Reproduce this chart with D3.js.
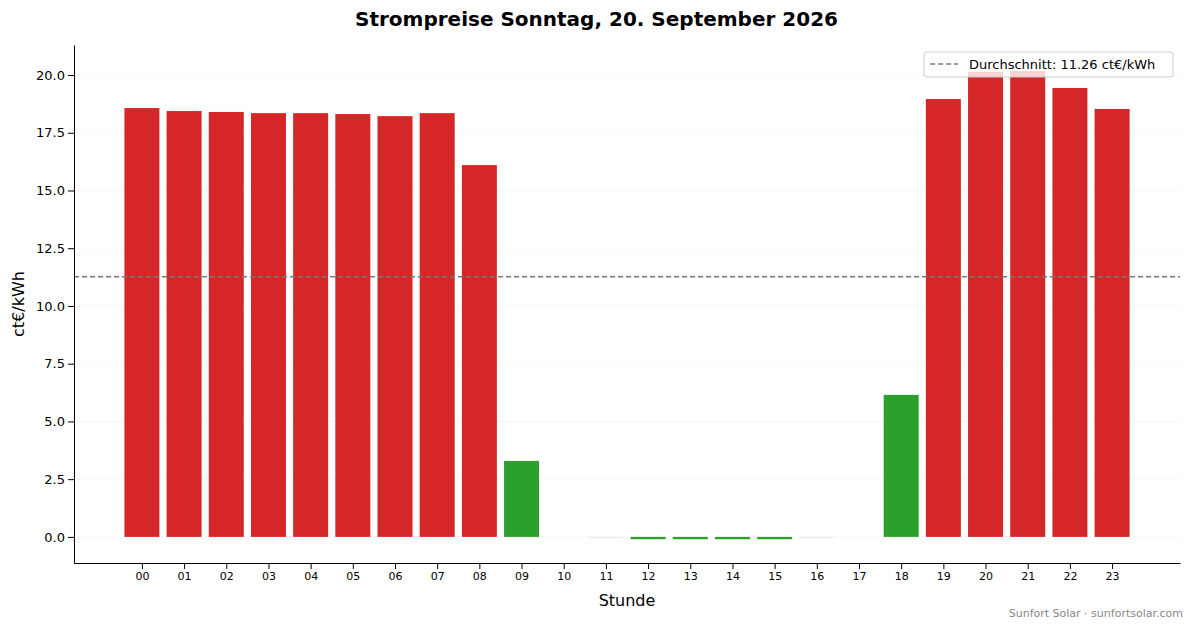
<!DOCTYPE html>
<html><head><meta charset="utf-8">
<script src="https://cdn.jsdelivr.net/npm/d3@7"></script>
<style>body{margin:0;background:#fff;font-family:"DejaVu Sans",sans-serif;}</style>
</head><body><div id="chart"></div>
<script>
const hours = ['00','01','02','03','04','05','06','07','08','09','10','11','12','13','14','15','16','17','18','19','20','21','22','23'];
const prices = [18.57,18.44,18.40,18.35,18.35,18.31,18.22,18.35,16.10,3.29,0.0,-0.03,-0.1,-0.1,-0.1,-0.1,-0.03,0.0,6.15,18.96,20.13,20.17,19.44,18.53];
const average = 11.26;
const yTicks = [0,2.5,5,7.5,10,12.5,15,17.5,20];

const W = 1193, H = 628;
const m = {left: 74, right: 13, top: 45, bottom: 65};
const svg = d3.select('#chart').append('svg').attr('width', W).attr('height', H);

const x = d3.scaleLinear().domain([-1.61, 24.61]).range([m.left, W - m.right]);
const y = d3.scaleLinear().domain([-1.13, 21.3]).range([H - m.bottom, m.top]);
const bw = (x(1) - x(0)) * 0.83;

// grid
svg.append('g').selectAll('line').data(yTicks).enter().append('line')
  .attr('x1', m.left).attr('x2', W - m.right)
  .attr('y1', d => y(d)).attr('y2', d => y(d))
  .attr('stroke', '#ddd').attr('stroke-width', 0.8).attr('stroke-dasharray', '1,3');

// bars
svg.append('g').selectAll('rect').data(prices).enter().append('rect')
  .attr('x', (d, i) => x(i) - bw / 2)
  .attr('width', bw)
  .attr('y', d => y(Math.max(d, 0)))
  .attr('height', d => Math.abs(y(d) - y(0)))
  .attr('fill', d => d > average ? '#d62728' : '#2ca02c')
  .attr('opacity', d => Math.abs(d) < 0.05 ? 0.2 : 1);

// average line
svg.append('line')
  .attr('x1', m.left).attr('x2', W - m.right)
  .attr('y1', y(average)).attr('y2', y(average))
  .attr('stroke', '#777').attr('stroke-width', 1.5).attr('stroke-dasharray', '5,3');

// axes
const xAxis = svg.append('g').attr('transform', `translate(0,${H - m.bottom})`)
  .call(d3.axisBottom(x).tickValues(d3.range(24)).tickFormat(i => hours[i]).tickSizeOuter(0));
const yAxis = svg.append('g').attr('transform', `translate(${m.left},0)`)
  .call(d3.axisLeft(y).tickValues(yTicks).tickFormat(d3.format('.1f')).tickSizeOuter(0));
[xAxis, yAxis].forEach(a => {
  a.selectAll('text').attr('font-family', 'DejaVu Sans').attr('fill', '#000');
  a.selectAll('line').attr('stroke', '#000');
  a.select('.domain').attr('stroke', '#000');
});
xAxis.selectAll('text').attr('font-size', 11);
yAxis.selectAll('text').attr('font-size', 13);

// labels
svg.append('text').attr('x', W / 2).attr('y', 26).attr('text-anchor', 'middle')
  .attr('font-size', 20).attr('font-weight', 'bold').text('Strompreise Sonntag, 20. September 2026');
svg.append('text').attr('x', (m.left + W - m.right) / 2).attr('y', 606).attr('text-anchor', 'middle')
  .attr('font-size', 16).text('Stunde');
svg.append('text').attr('transform', `translate(24,${(m.top + H - m.bottom) / 2}) rotate(-90)`)
  .attr('text-anchor', 'middle').attr('font-size', 16).text('ct€/kWh');
svg.append('text').attr('x', 1183).attr('y', 617).attr('text-anchor', 'end')
  .attr('font-size', 11).attr('fill', '#888').text('Sunfort Solar · sunfortsolar.com');

// legend
const lg = svg.append('g').attr('transform', 'translate(924,52)');
lg.append('rect').attr('width', 249).attr('height', 25).attr('rx', 3)
  .attr('fill', 'rgba(255,255,255,0.8)').attr('stroke', '#ccc');
lg.append('line').attr('x1', 6).attr('x2', 34).attr('y1', 12).attr('y2', 12)
  .attr('stroke', '#777').attr('stroke-width', 1.5).attr('stroke-dasharray', '5,3');
lg.append('text').attr('x', 45).attr('y', 17).attr('font-size', 13).text('Durchschnitt: 11.26 ct€/kWh');
</script></body></html>
